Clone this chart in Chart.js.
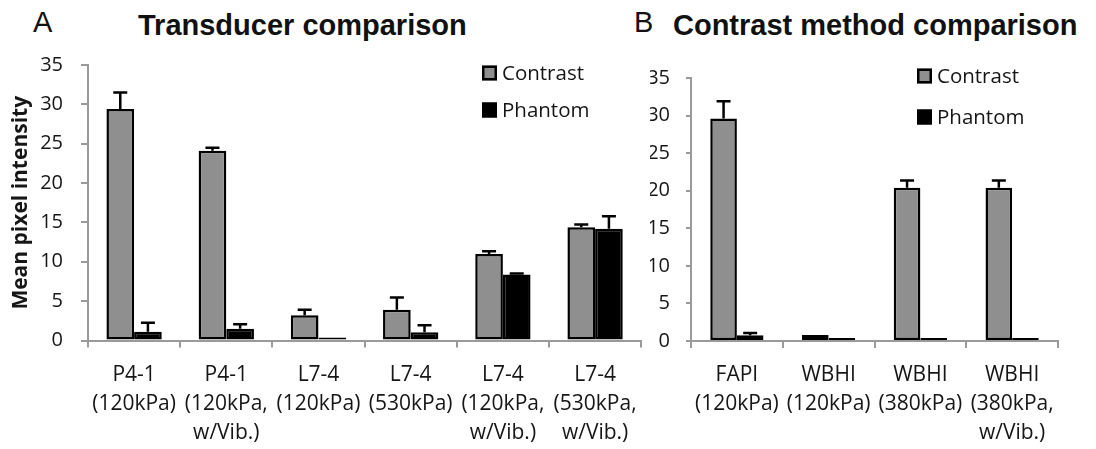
<!DOCTYPE html>
<html>
<head>
<meta charset="utf-8">
<script src="https://cdn.jsdelivr.net/npm/chart.js@4.4.1/dist/chart.umd.min.js"></script>
<style>
  html, body { margin: 0; padding: 0; background: #fff; }
  body { width: 1096px; height: 449px; position: relative; overflow: hidden; font-family: 'Liberation Sans', Arial, sans-serif; }
  canvas { position: absolute; top: 0; }
  .letter { position: absolute; font-size: 29px; color: #111; line-height: 1; }
  .title { position: absolute; font-size: 29px; font-weight: bold; color: #111; line-height: 1; white-space: nowrap; }
</style>
</head>
<body>
<div class="letter" style="left:33px; top:8px;">A</div>
<div class="title" style="left:138px; top:11px;">Transducer comparison</div>
<div class="letter" style="left:634px; top:8px;">B</div>
<div class="title" style="left:673px; top:11px;">Contrast method comparison</div>
<canvas id="chartA" width="650" height="449" style="left:0px;"></canvas>
<canvas id="chartB" width="446" height="449" style="left:650px;"></canvas>
<script>
// ---------- Data ----------
const seriesNames = ["Contrast", "Phantom"];
const yTickValues = [0, 5, 10, 15, 20, 25, 30, 35];

const categoriesA = [
  ["P4-1", "(120kPa)"],
  ["P4-1", "(120kPa,", "w/Vib.)"],
  ["L7-4", "(120kPa)"],
  ["L7-4", "(530kPa)"],
  ["L7-4", "(120kPa,", "w/Vib.)"],
  ["L7-4", "(530kPa,", "w/Vib.)"]
];
const contrastA    = [29.4, 24.1, 3.2, 3.9, 11.0, 14.4];
const contrastErrA = [2.1, 0.4, 0.7, 1.55, 0.35, 0.35];
const phantomA     = [1.1, 1.5, 0.25, 1.05, 8.4, 14.2];
const phantomErrA  = [1.15, 0.55, 0, 0.9, 0.1, 1.6];

const categoriesB = [
  ["FAPI", "(120kPa)"],
  ["WBHI", "(120kPa)"],
  ["WBHI", "(380kPa)"],
  ["WBHI", "(380kPa,", "w/Vib.)"]
];
const contrastB    = [29.6, 0.8, 20.4, 20.4];
const contrastErrB = [2.3, 0, 0.95, 0.95];
const phantomB     = [0.75, 0.1, 0.1, 0.1];
const phantomErrB  = [0.3, 0, 0, 0];

// ---------- Styles ----------
const CONTRAST_FILL = "#8f8f8f";
const PHANTOM_FILL = "#000000";
const AXIS_COLOR = "#9a9a9a";
const TEXT_COLOR = "#161616";
const FONT = "'Open Sans', 'DejaVu Sans', sans-serif";

Chart.defaults.font.family = FONT;
Chart.defaults.color = TEXT_COLOR;

const errorBarsPlugin = {
  id: "errorBars",
  afterDatasetsDraw(chart, args, opts) {
    const ctx = chart.ctx;
    const yScale = chart.scales.y;
    chart.data.datasets.forEach((ds, i) => {
      const meta = chart.getDatasetMeta(i);
      const errs = ds.errors || [];
      meta.data.forEach((bar, j) => {
        const e = errs[j];
        if (!e) return;
        const topPx = yScale.getPixelForValue(ds.data[j] + e);
        const basePx = yScale.getPixelForValue(ds.data[j]);
        const half = opts.capHalf || 7;
        ctx.save();
        ctx.strokeStyle = "#000";
        ctx.lineWidth = 2.5;
        ctx.lineCap = "butt";
        ctx.beginPath();
        ctx.moveTo(bar.x, basePx);
        ctx.lineTo(bar.x, topPx);
        ctx.moveTo(bar.x - half, topPx);
        ctx.lineTo(bar.x + half, topPx);
        ctx.stroke();
        ctx.restore();
      });
    });
  }
};

const boxLegendPlugin = {
  id: "boxLegend",
  afterDraw(chart, args, opts) {
    const ctx = chart.ctx;
    const box = opts.box;
    ctx.save();
    ctx.font = opts.fontSize + "px " + FONT;
    ctx.textBaseline = "middle";
    ctx.textAlign = "left";
    chart.data.datasets.forEach((ds, i) => {
      const cy = opts.y + i * opts.rowGap;
      ctx.fillStyle = ds.backgroundColor;
      ctx.fillRect(opts.x, cy - box / 2, box, box);
      ctx.strokeStyle = "#000";
      ctx.lineWidth = 2.5;
      ctx.strokeRect(opts.x + 1.25, cy - box / 2 + 1.25, box - 2.5, box - 2.5);
      ctx.fillStyle = TEXT_COLOR;
      ctx.fillText(ds.label, opts.x + box + 5, cy + 1);
    });
    ctx.restore();
  }
};

function makeChart(canvasId, cats, cVals, cErr, pVals, pErr, cfg) {
  return new Chart(document.getElementById(canvasId), {
    type: "bar",
    data: {
      labels: cats,
      datasets: [
        {
          label: seriesNames[0], data: cVals, errors: cErr,
          backgroundColor: CONTRAST_FILL, borderColor: "#000", borderWidth: 2.5,
          borderSkipped: false, categoryPercentage: cfg.catPct, barPercentage: 1.0
        },
        {
          label: seriesNames[1], data: pVals, errors: pErr,
          backgroundColor: PHANTOM_FILL, borderColor: "#000", borderWidth: 2.5,
          borderSkipped: false, categoryPercentage: cfg.catPct, barPercentage: 1.0,
          minBarLength: 3
        }
      ]
    },
    options: {
      responsive: false,
      animation: false,
      devicePixelRatio: 1,
      layout: { padding: { left: 0, right: cfg.padRight, top: cfg.padTop, bottom: 0 } },
      plugins: {
        legend: { display: false },
        tooltip: { enabled: false },
        errorBars: { capHalf: 7 },
        boxLegend: cfg.legend
      },
      scales: {
        x: {
          grid: { display: true, drawOnChartArea: false, drawTicks: true, tickLength: 7, color: AXIS_COLOR, lineWidth: 2, offset: true },
          border: { display: true, color: AXIS_COLOR, width: 2 },
          ticks: { color: TEXT_COLOR, font: { size: 21, lineHeight: 1.38 }, padding: 13, maxRotation: 0, autoSkip: false },
          afterFit: (s) => { s.height = cfg.xHeight; }
        },
        y: {
          min: yTickValues[0],
          max: yTickValues[yTickValues.length - 1],
          afterBuildTicks: (s) => { s.ticks = yTickValues.map(v => ({ value: v })); },
          grid: { display: true, drawOnChartArea: false, drawTicks: true, tickLength: cfg.yTick, color: AXIS_COLOR, lineWidth: 2 },
          border: { display: true, color: AXIS_COLOR, width: 2 },
          ticks: { color: TEXT_COLOR, font: { size: 20 }, padding: cfg.yPad },
          title: cfg.yTitle,
          afterFit: (s) => { s.width = cfg.yWidth; }
        }
      }
    },
    plugins: [errorBarsPlugin, boxLegendPlugin]
  });
}

makeChart("chartA", categoriesA, contrastA, contrastErrA, phantomA, phantomErrA, {
  catPct: 0.6, padRight: 5, padTop: 65, xHeight: 108.5, yWidth: 88, yTick: 7, yPad: 18,
  legend: { x: 482, y: 73, rowGap: 37, box: 15, fontSize: 20.5 },
  yTitle: { display: true, text: "Mean pixel intensity", color: TEXT_COLOR, font: { size: 21, weight: "bold" }, padding: { top: 8, bottom: 0 } }
});

makeChart("chartB", categoriesB, contrastB, contrastErrB, phantomB, phantomErrB, {
  catPct: 0.58, padRight: 38, padTop: 78, xHeight: 108, yWidth: 41, yTick: 5, yPad: 16,
  legend: { x: 267, y: 76, rowGap: 41, box: 15, fontSize: 20.5 },
  yTitle: { display: false }
});
</script>
</body>
</html>
